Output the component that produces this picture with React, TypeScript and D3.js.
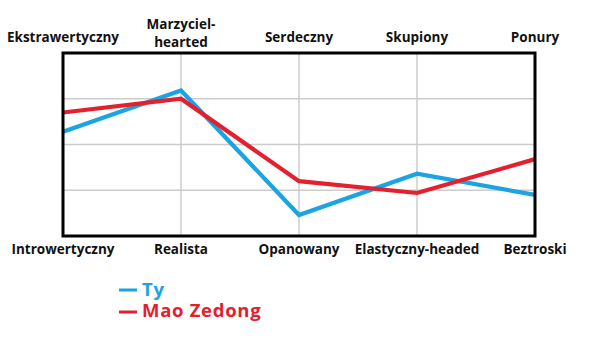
import React from "react";
import * as d3 from "d3";

const topLabels: string[][] = [["Ekstrawertyczny"], ["Marzyciel-", "hearted"], ["Serdeczny"], ["Skupiony"], ["Ponury"]];
const bottomLabels: string[] = ["Introwertyczny", "Realista", "Opanowany", "Elastyczny-headed", "Beztroski"];
const tyValues: number[] = [57, 79.5, 11.5, 34, 22.5];
const maoValues: number[] = [67.5, 75, 30, 23.5, 42];
const seriesNames: string[] = ["Ty", "Mao Zedong"];
const seriesColors: string[] = ["#1ba3e2", "#e4202e"];
const yTicks: number[] = [0, 25, 50, 75, 100];

export default function App() {
  const W = 600, H = 350;
  const left = 63, right = 535, top = 53, bottom = 236;
  const x = d3.scalePoint<number>().domain(d3.range(5)).range([left, right]);
  const y = d3.scaleLinear().domain([0, 100]).range([bottom, top]);
  const line = d3.line<number>().x((_, i) => x(i)!).y((d) => y(d));
  const font = "'Open Sans', sans-serif";
  return (
    <svg width={W} height={H} style={{ position: "absolute", left: 0, top: 0 }} fontFamily={font}>
      <rect x={0} y={0} width={W} height={H} fill="#fff" />
      {d3.range(1, 4).map((i) => (
        <line key={"v" + i} x1={x(i)} x2={x(i)} y1={top} y2={bottom} stroke="#cccccc" strokeWidth={1.5} />
      ))}
      {yTicks.slice(1, -1).map((t) => (
        <line key={"h" + t} x1={left} x2={right} y1={y(t)} y2={y(t)} stroke="#cccccc" strokeWidth={1.5} />
      ))}
      {[tyValues, maoValues].map((vals, si) => (
        <path key={si} d={line(vals)!} fill="none" stroke={seriesColors[si]} strokeWidth={4.2} strokeLinejoin="miter" />
      ))}
      <rect x={left} y={top} width={right - left} height={bottom - top} fill="none" stroke="#000" strokeWidth={3} />
      {topLabels.map((lines, i) => (
        <text key={"t" + i} x={x(i)} textAnchor="middle" fontWeight="bold" fontSize={13.5} fill="#111">
          {lines.map((l, j) => (
            <tspan key={j} x={x(i)} y={lines.length === 1 ? 42 : 29 + j * 17.5}>{l}</tspan>
          ))}
        </text>
      ))}
      {bottomLabels.map((l, i) => (
        <text key={"b" + i} x={x(i)} y={253.5} textAnchor="middle" fontWeight="bold" fontSize={13.5} fill="#111">{l}</text>
      ))}
      {seriesNames.map((n, i) => (
        <g key={"l" + i}>
          <line x1={119} x2={137} y1={290 + i * 22} y2={290 + i * 22} stroke={seriesColors[i]} strokeWidth={3} />
          <text x={142} y={295.5 + i * 21.5} fontWeight="bold" fontSize={18.5} letterSpacing={0.7} fill={seriesColors[i]}>{n}</text>
        </g>
      ))}
    </svg>
  );
}
